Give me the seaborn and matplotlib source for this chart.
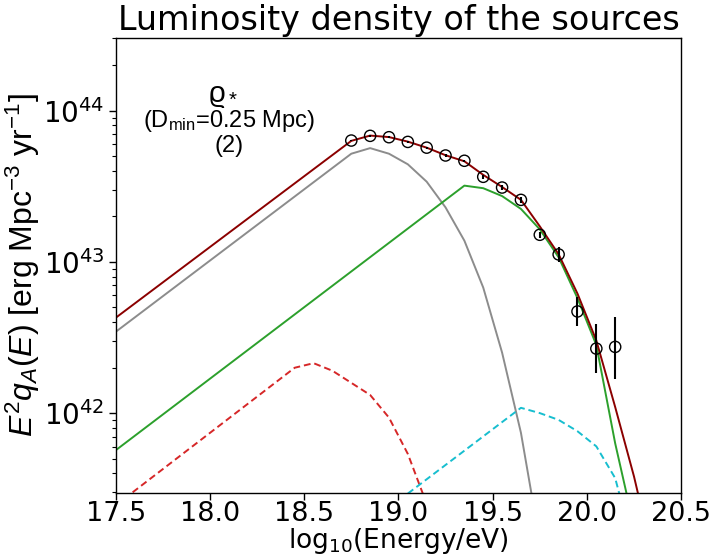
import numpy as np
import pandas as pd
import matplotlib
matplotlib.use("Agg")
import matplotlib.pyplot as plt
import seaborn as sns

# ---------------- data ----------------
# total model (dark red)
E_total = [17.5, 18.75, 18.85, 18.95, 19.05, 19.15, 19.25, 19.35, 19.45, 19.55,
           19.65, 19.75, 19.85, 19.95, 20.05, 20.15, 20.25, 20.35]
logL_total = [42.63, 43.80, 43.835, 43.825, 43.795, 43.755, 43.705, 43.665, 43.575,
              43.495, 43.41, 43.235, 43.05, 42.79, 42.48, 42.04, 41.58, 41.05]
# component 1 (gray)
E_gray = [17.5, 18.75, 18.85, 18.95, 19.05, 19.15, 19.25, 19.35, 19.45, 19.55, 19.65, 19.75]
logL_gray = [42.537, 43.715, 43.752, 43.715, 43.645, 43.53, 43.36, 43.14, 42.83,
             42.40, 41.87, 41.15]
# component 2 (green)
E_green = [17.5, 19.35, 19.45, 19.55, 19.65, 19.75, 19.85, 19.95, 20.05, 20.15, 20.25]
logL_green = [41.754, 43.504, 43.487, 43.435, 43.35, 43.215, 43.03, 42.76, 42.45,
              41.80, 41.25]
# component 3 (red dashed)
E_red = [17.5, 18.45, 18.55, 18.65, 18.75, 18.85, 18.95, 19.05, 19.15]
logL_red = [41.39, 42.30, 42.33, 42.28, 42.20, 42.12, 41.97, 41.73, 41.40]
# component 4 (cyan dashed)
E_cyan = [19.05, 19.65, 19.75, 19.85, 19.95, 20.05, 20.15, 20.25]
logL_cyan = [41.468, 42.035, 42.00, 41.955, 41.88, 41.78, 41.57, 41.10]

# data points with error bounds
E_data = [18.75, 18.85, 18.95, 19.05, 19.15, 19.25, 19.35, 19.45, 19.55, 19.65,
          19.75, 19.85, 19.95, 20.05, 20.15]
L_data = [6.34e43, 6.81e43, 6.67e43, 6.21e43, 5.69e43, 5.05e43, 4.66e43, 3.65e43,
          3.10e43, 2.57e43, 1.51e43, 1.12e43, 4.70e42, 2.67e42, 2.74e42]
L_low = [6.25e43, 6.72e43, 6.58e43, 6.12e43, 5.60e43, 4.96e43, 4.57e43, 3.52e43,
         2.97e43, 2.45e43, 1.44e43, 1.00e43, 3.78e42, 1.84e42, 1.68e42]
L_high = [6.43e43, 6.90e43, 6.76e43, 6.30e43, 5.78e43, 5.14e43, 4.75e43, 3.78e43,
          3.23e43, 2.70e43, 1.58e43, 1.26e43, 5.90e42, 3.89e42, 4.35e42]

x_ticks = [17.5, 18.0, 18.5, 19.0, 19.5, 20.0, 20.5]

# ---------------- style ----------------
sns.set_style("ticks")
plt.rcParams['font.family'] = ['DejaVu Sans']
plt.rcParams['mathtext.fontset'] = 'custom'
plt.rcParams['mathtext.rm'] = 'Liberation Sans'
plt.rcParams['mathtext.it'] = 'Liberation Sans:italic'
plt.rcParams['mathtext.bf'] = 'Liberation Sans:bold'
for k in ['text.color', 'axes.labelcolor', 'xtick.color', 'ytick.color', 'axes.edgecolor']:
    plt.rcParams[k] = 'black'

fig = plt.figure(figsize=(7.14, 5.55), dpi=100)
ax = fig.add_axes([0.162, 0.112, 0.792, 0.8195])

def curve(E, logL, color, ls):
    df = pd.DataFrame({"E": E, "L": np.power(10.0, logL)})
    sns.lineplot(data=df, x="E", y="L", ax=ax, color=color, linestyle=ls,
                 linewidth=1.4, sort=False, estimator=None)

curve(E_gray, logL_gray, "#8c8c8c", "-")
curve(E_green, logL_green, "#2ca02c", "-")
curve(E_red, logL_red, "#d62728", (0, (3.5, 2)))
curve(E_cyan, logL_cyan, "#17becf", (0, (3.5, 2)))
curve(E_total, logL_total, "#8b0000", "-")

E_arr = np.array(E_data)
L_arr = np.array(L_data)
yerr = [L_arr - np.array(L_low), np.array(L_high) - L_arr]
ax.errorbar(E_arr, L_arr, yerr=yerr, fmt='none', ecolor='black', elinewidth=1.5,
            capsize=0, zorder=5)
sns.scatterplot(x=E_data, y=L_data, ax=ax, marker='o', s=65, facecolors='none',
                edgecolor='black', linewidth=1.0, zorder=6)

ax.set_yscale('log')
ax.set_xlim(17.5, 20.5)
ax.set_ylim(2.97e41, 3.02e44)
ax.set_xticks(x_ticks)
ax.set_xticklabels([f"{t:.1f}" for t in x_ticks])
ax.tick_params(axis='both', which='major', length=5, width=1, direction='out')
ax.tick_params(axis='x', which='major', labelsize=19.5, pad=1)
ax.tick_params(axis='y', which='major', labelsize=20, pad=3)
ax.tick_params(axis='y', which='minor', length=3, width=0.8)
for s in ax.spines.values():
    s.set_linewidth(1.0)
    s.set_color('black')

ax.set_xlabel(r'log$_{\mathdefault{10}}$(Energy/eV)', fontsize=19, labelpad=-1)
ax.set_ylabel(r'$E^2q_A(E)$ [erg Mpc$^{-3}$ yr$^{-1}$]', fontsize=23,
              family='Liberation Sans', labelpad=1)
ax.set_title('Luminosity density of the sources', fontsize=24, pad=6)

ax.text(0.19, 0.872, r'ϱ$_*$', transform=ax.transAxes, fontsize=21, ha='center',
        va='center', family=['Liberation Sans', 'DejaVu Sans'])
ax.text(0.20, 0.818, r'(D$_{\rm min}$=0.25 Mpc)', transform=ax.transAxes, fontsize=17,
        ha='center', va='center', family='Liberation Sans')
ax.text(0.20, 0.762, '(2)', transform=ax.transAxes, fontsize=17, ha='center',
        va='center', family='Liberation Sans')

fig.savefig("out.png", dpi=100)
